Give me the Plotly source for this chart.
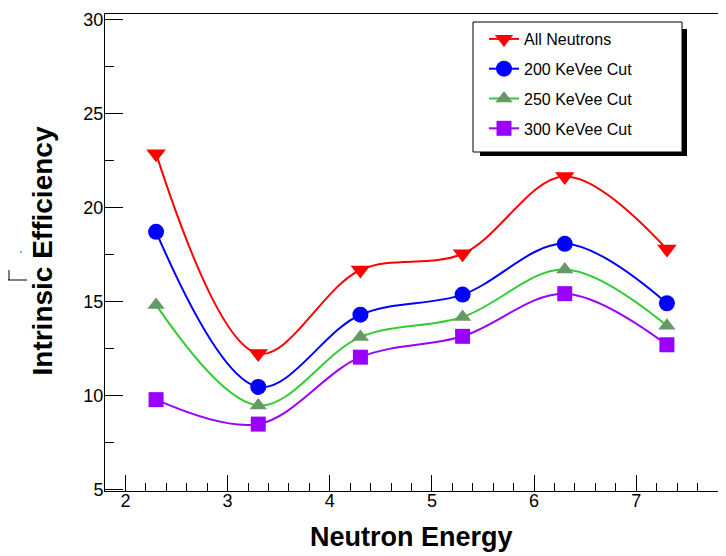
import plotly.graph_objects as go

# ---- data ----
energy = [2.3, 3.3, 4.3, 5.3, 6.3, 7.3]
all_neutrons = [22.86, 12.22, 16.67, 17.53, 21.65, 17.78]
cut_200 = [18.70, 10.45, 14.29, 15.36, 18.06, 14.90]
cut_250 = [14.81, 9.46, 13.10, 14.17, 16.69, 13.70]
cut_300 = [9.77, 8.47, 12.03, 13.14, 15.41, 12.69]
series_names = ["All Neutrons", "200 KeVee Cut", "250 KeVee Cut", "300 KeVee Cut"]
x_title = "Neutron Energy"
y_title = "Intrinsic Efficiency"

# ---- geometry (page pixels of the 726x556 window; the page body has an 8px margin) ----
OFF = 8
W, H = 726 - OFF, 556 - OFF
L, R, T, B = 105, 718, 14, 491   # plot frame in page pixels


def px(xp):
    return (xp - L) / (R - L)


def py(yp):
    return (B - yp) / (B - T)


FONT = "Liberation Sans, Arial, Helvetica, sans-serif"

styles = [
    dict(line_color="#ff0000", marker_color="#ff0000", symbol="triangle-down", size=17),
    dict(line_color="#0000ff", marker_color="#0000ff", symbol="circle", size=16),
    dict(line_color="#33cc33", marker_color="#669966", symbol="triangle-up", size=15),
    dict(line_color="#9900ff", marker_color="#9900ff", symbol="square", size=15),
]

fig = go.Figure()
for name, vals, st in zip(series_names, [all_neutrons, cut_200, cut_250, cut_300], styles):
    fig.add_trace(go.Scatter(
        x=energy, y=vals, name=name, mode="lines+markers",
        legendgroup=name,
        line=dict(color=st["line_color"], width=2, shape="spline", smoothing=1.0),
        marker=dict(color=st["marker_color"], symbol=st["symbol"], size=st["size"],
                    line=dict(width=0)),
    ))

shapes = [
    # legend shadow and box
    dict(type="rect", xref="paper", yref="paper", x0=px(480), x1=px(687), y0=py(156), y1=py(29),
         fillcolor="black", line=dict(width=0), layer="above"),
    dict(type="rect", xref="paper", yref="paper", x0=px(473), x1=px(682), y0=py(152), y1=py(22),
         fillcolor="white", line=dict(color="black", width=1), layer="above"),
    # small stray marks seen at the page edges
    dict(type="line", xref="paper", yref="paper", x0=px(60), x1=px(92), y0=py(3), y1=py(3),
         line=dict(color="#33dd55", width=1.5)),
    dict(type="line", xref="paper", yref="paper", x0=px(92), x1=px(103), y0=py(3), y1=py(3),
         line=dict(color="black", width=1.5)),
    dict(type="line", xref="paper", yref="paper", x0=px(9), x1=px(9), y0=py(270), y1=py(280),
         line=dict(color="black", width=1)),
    dict(type="line", xref="paper", yref="paper", x0=px(8), x1=px(27), y0=py(280), y1=py(280),
         line=dict(color="black", width=1)),
    dict(type="circle", xref="paper", yref="paper", x0=px(20), x1=px(22), y0=py(253), y1=py(251),
         fillcolor="#33aaff", line=dict(width=0)),
]

annotations = [
    dict(text="<b>" + x_title + "</b>", xref="paper", yref="paper", x=0.5, y=py(537),
         xanchor="center", yanchor="middle", showarrow=False,
         font=dict(family=FONT, size=27, color="black")),
    dict(text="<b>" + y_title + "</b>", xref="paper", yref="paper", x=px(41.5), y=py(251),
         xanchor="center", yanchor="middle", showarrow=False, textangle=-90,
         font=dict(family=FONT, size=28, color="black")),
]

fig.update_layout(
    width=W, height=H,
    margin=dict(l=L - OFF, r=(W + OFF) - R, t=T - OFF, b=(H + OFF) - B, pad=0, autoexpand=False),
    paper_bgcolor="white", plot_bgcolor="white",
    font=dict(family=FONT, size=18, color="black"),
    showlegend=True,
    legend=dict(x=px(484), y=py(22), xanchor="left", yanchor="top",
                bgcolor="rgba(0,0,0,0)", borderwidth=0,
                font=dict(family=FONT, size=16, color="black"),
                tracegroupgap=6, itemsizing="trace"),
    shapes=shapes, annotations=annotations,
    xaxis=dict(range=[1.8, 7.8], showgrid=False, zeroline=False,
               showline=True, linecolor="black", linewidth=1, mirror=True,
               ticks="inside", ticklen=16, tickwidth=1, tickcolor="black",
               tick0=0, dtick=1, ticklabelstandoff=-7,
               minor=dict(ticks="inside", ticklen=8, tickwidth=1, tickcolor="black", dtick=0.2, showgrid=False),
               tickfont=dict(family=FONT, size=18, color="black")),
    yaxis=dict(range=[4.91, 30.29], showgrid=False, zeroline=False,
               showline=True, linecolor="black", linewidth=1, mirror=True,
               ticks="inside", ticklen=18, tickwidth=1, tickcolor="black",
               tick0=0, dtick=5, ticklabelstandoff=-3,
               minor=dict(ticks="inside", ticklen=9, tickwidth=1, tickcolor="black", dtick=2.5, showgrid=False),
               tickfont=dict(family=FONT, size=18, color="black")),
)

fig.write_html("out.html")
